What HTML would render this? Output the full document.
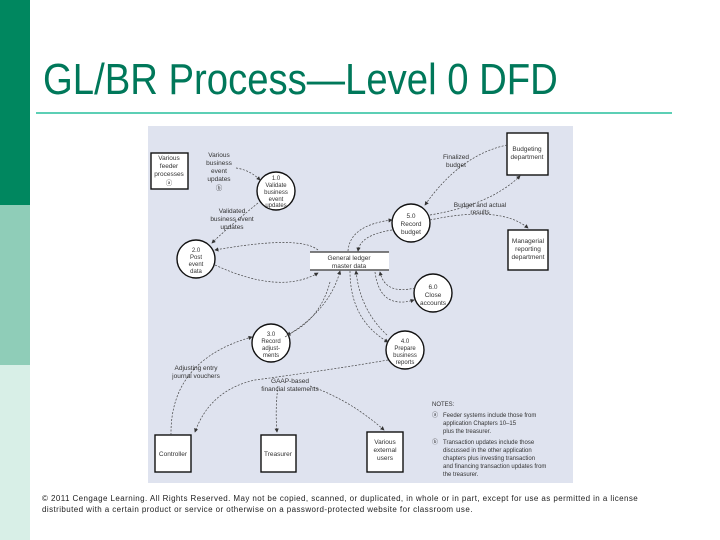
<!DOCTYPE html>
<html><head><style>
body{margin:0;width:720px;height:540px;position:relative;background:#fff;font-family:"Liberation Sans",sans-serif;overflow:hidden}
.s1{position:absolute;left:0;top:0;width:30px;height:205px;background:#00875f}
.s2{position:absolute;left:0;top:205px;width:30px;height:160px;background:#8fcdb8}
.s3{position:absolute;left:0;top:365px;width:30px;height:175px;background:#d8efe7}
h1{position:absolute;left:43px;top:58px;margin:0;font-weight:normal;font-size:44px;line-height:44px;color:#00785a;transform:scaleX(0.87);transform-origin:left;white-space:nowrap}
.line{position:absolute;left:36px;top:112px;width:636px;height:2px;background:#5ccfb5}
.cp{position:absolute;left:42px;top:493px;font-size:8px;color:#222;line-height:11px;letter-spacing:0.42px;white-space:nowrap}
svg{position:absolute;left:0;top:0}
</style></head><body>
<div class="s1"></div><div class="s2"></div><div class="s3"></div>
<h1>GL/BR Process—Level 0 DFD</h1>
<div class="line"></div>
<svg width="720" height="540" font-family="Liberation Sans,sans-serif" font-size="6.5" fill="#333">
<defs><marker id="a" markerWidth="6" markerHeight="6" refX="5" refY="3" orient="auto"><path d="M0,0 L6,3 L0,6z" fill="#333"/></marker></defs>
<rect x="148" y="126" width="425" height="357" fill="#dfe3ef"/>
<g fill="#fff" stroke="#111" stroke-width="1.4">
<rect x="151" y="153" width="37" height="36"/>
<rect x="507" y="133" width="41" height="42"/>
<rect x="508" y="230" width="40" height="40"/>
<rect x="155" y="435" width="36" height="37"/>
<rect x="261" y="435" width="35" height="37"/>
<rect x="367" y="432" width="36" height="40"/>
<circle cx="276" cy="191" r="19"/><circle cx="411" cy="223" r="19"/>
<circle cx="196" cy="259" r="19"/><circle cx="433" cy="293" r="19"/>
<circle cx="271" cy="343" r="19"/><circle cx="405" cy="350" r="19"/>
</g>
<rect x="310" y="252" width="79" height="18" fill="#fff"/>
<line x1="310" y1="252" x2="389" y2="252" stroke="#555" stroke-width="1.5"/>
<line x1="310" y1="270" x2="389" y2="270" stroke="#555" stroke-width="1.5"/>
<g fill="none" stroke="#444" stroke-width="0.7" stroke-dasharray="2,1.5" marker-end="url(#a)">
<path d="M236,168 Q250,170 260,180"/>
<path d="M258,203 Q225,230 212,243"/>
<path d="M318,250 Q300,235 215,250"/>
<path d="M215,265 Q280,295 318,273"/>
<path d="M507,145 Q460,155 425,205"/>
<path d="M430,215 Q490,205 520,176"/>
<path d="M430,220 Q500,205 528,228"/>
<path d="M348,251 Q350,225 392,220"/>
<path d="M392,230 Q360,235 358,251"/>
<path d="M415,288 Q385,295 380,272"/>
<path d="M375,272 Q380,310 414,300"/>
<path d="M330,282 Q320,320 287,335"/>
<path d="M285,337 Q330,310 340,271"/>
<path d="M350,271 Q350,320 388,342"/>
<path d="M387,335 Q360,310 356,271"/>
<path d="M171,435 Q170,360 252,337"/>
<path d="M388,360 Q330,370 255,380 Q210,390 195,432"/>
<path d="M278,386 Q275,410 277,432"/>
<path d="M310,386 Q350,400 384,430"/>
</g>
<g text-anchor="middle">
<text x="169" y="160">Various</text><text x="169" y="168">feeder</text><text x="169" y="176">processes</text><text x="169" y="185">ⓐ</text>
<text x="219" y="157">Various</text><text x="219" y="165">business</text><text x="219" y="173">event</text><text x="219" y="181">updates</text><text x="219" y="190">ⓑ</text>
<g font-size="6"><text x="276" y="180">1.0</text><text x="276" y="187">Validate</text><text x="276" y="194">business</text><text x="276" y="201">event</text><text x="276" y="207">updates</text></g>
<text x="232" y="213">Validated</text><text x="232" y="221">business event</text><text x="232" y="229">updates</text>
<g font-size="6"><text x="196" y="252">2.0</text><text x="196" y="259">Post</text><text x="196" y="266">event</text><text x="196" y="273">data</text></g>
<text x="349" y="260">General ledger</text><text x="349" y="268">master data</text>
<text x="456" y="159">Finalized</text><text x="456" y="167">budget</text>
<text x="527" y="151">Budgeting</text><text x="527" y="159">department</text>
<text x="480" y="207">Budget and actual</text><text x="480" y="214">results</text>
<text x="411" y="218">5.0</text><text x="411" y="226">Record</text><text x="411" y="234">budget</text>
<text x="528" y="243">Managerial</text><text x="528" y="251">reporting</text><text x="528" y="259">department</text>
<text x="433" y="289">6.0</text><text x="433" y="297">Close</text><text x="433" y="305">accounts</text>
<g font-size="6"><text x="271" y="336">3.0</text><text x="271" y="343">Record</text><text x="271" y="350">adjust-</text><text x="271" y="357">ments</text>
<text x="405" y="343">4.0</text><text x="405" y="350">Prepare</text><text x="405" y="357">business</text><text x="405" y="364">reports</text></g>
<text x="196" y="370">Adjusting entry</text><text x="196" y="378">journal vouchers</text>
<text x="290" y="383">GAAP-based</text><text x="290" y="391">financial statements</text>
<text x="173" y="456">Controller</text><text x="278" y="456">Treasurer</text>
<text x="385" y="444">Various</text><text x="385" y="452">external</text><text x="385" y="460">users</text>
</g>
<g font-size="6">
<text x="432" y="406">NOTES:</text>
<text x="432" y="417">ⓐ</text><text x="443" y="417">Feeder systems include those from</text><text x="443" y="425">application Chapters 10–15</text><text x="443" y="433">plus the treasurer.</text>
<text x="432" y="444">ⓑ</text><text x="443" y="444">Transaction updates include those</text><text x="443" y="452">discussed in the other application</text><text x="443" y="460">chapters plus investing transaction</text><text x="443" y="468">and financing transaction updates from</text><text x="443" y="476">the treasurer.</text>
</g>
</svg>
<div class="cp">© 2011 Cengage Learning. All Rights Reserved. May not be copied, scanned, or duplicated, in whole or in part, except for use as permitted in a license<br>distributed with a certain product or service or otherwise on a password-protected website for classroom use.</div>
</body></html>
